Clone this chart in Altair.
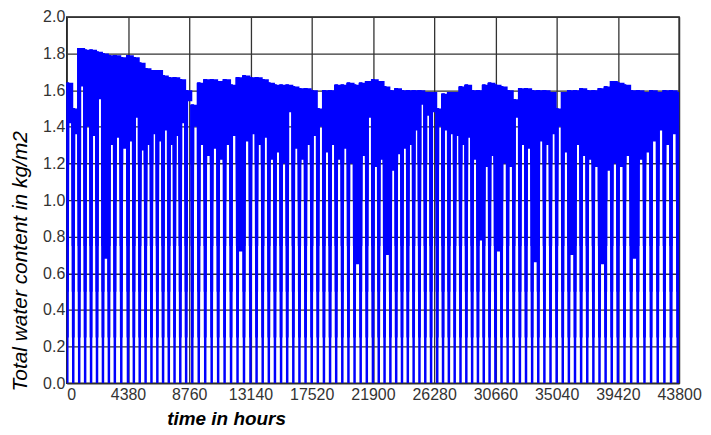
import altair as alt
import pandas as pd

# hours at which the water content drops to zero
drop_hours = [
    40, 465, 890, 1315, 1740, 2165, 2590, 3015, 3440, 3900, 4380, 4800, 5220,
    5640, 6060, 6480, 6890, 7300, 7710, 8120, 8540,
    8980, 9442, 9904, 10367, 10829, 11291, 11753, 12216, 12678, 13140,
    13578, 14016, 14454, 14892, 15330, 15768, 16206, 16644, 17082, 17520,
    17958, 18396, 18834, 19272, 19710, 20148, 20586, 21024, 21462, 21900,
    22316, 22732, 23148, 23564, 23980, 24396, 24812, 25228, 25644, 26060,
    26500, 26916, 27332, 27748, 28164, 28580, 28996, 29412, 29828, 30244,
    30660, 31098, 31536, 31974, 32412, 32850, 33288, 33726, 34164, 34602,
    35040, 35478, 35916, 36354, 36792, 37230, 37668, 38106, 38544, 38982,
    39420, 39895, 40371, 40846, 41322, 41797, 42272, 42748, 43223, 43699,
]

# upper envelope of the content between two drops (kg/m2)
segment_top = [
    1.64, 1.50, 1.83, 1.82, 1.82, 1.81, 1.80, 1.79, 1.79, 1.78, 1.79, 1.78,
    1.75, 1.72, 1.71, 1.71, 1.68, 1.67, 1.67, 1.66, 1.60,
    1.52, 1.64, 1.66, 1.66, 1.65, 1.66, 1.63, 1.67, 1.68, 1.67, 1.67, 1.66,
    1.64, 1.63, 1.63, 1.63, 1.62, 1.61, 1.61, 1.60, 1.50, 1.60, 1.60, 1.63,
    1.63, 1.64, 1.63, 1.64, 1.65, 1.66, 1.65, 1.62, 1.60, 1.61, 1.60, 1.60,
    1.60, 1.60, 1.59, 1.59,
    1.50, 1.58, 1.59, 1.59, 1.62, 1.63, 1.60, 1.60, 1.63, 1.64, 1.63, 1.62,
    1.60, 1.55, 1.61, 1.61, 1.60, 1.60, 1.60, 1.59, 1.50, 1.59, 1.60, 1.60,
    1.61, 1.60, 1.60, 1.61, 1.62, 1.65, 1.64, 1.63, 1.60, 1.60, 1.59, 1.60,
    1.59, 1.60, 1.60, 1.59,
]

# lowest content reached between two drops (top of each white gap, kg/m2)
gap_floor = [
    1.42, 1.36, 1.62, 1.40, 1.35, 1.55, 0.68, 1.30, 1.34, 1.28, 1.32, 1.45,
    1.27, 1.30, 1.36, 1.32, 1.38, 1.30, 1.35, 1.42, 1.54,
    1.40, 1.30, 1.24, 1.28, 1.22, 1.30, 1.35, 0.72, 1.32, 1.36, 1.30, 1.34,
    1.22, 1.26, 1.20, 1.48, 1.28, 1.22, 1.30, 1.35, 1.40, 1.26, 1.30, 1.22,
    1.28, 1.20, 0.65, 1.24, 1.45, 1.18, 1.22, 0.70, 1.16, 1.25, 1.28, 1.30,
    1.38, 1.52, 1.46, 1.48,
    1.40, 1.38, 1.36, 1.35, 1.30, 1.34, 1.22, 0.78, 1.18, 1.24, 0.72, 1.20,
    1.18, 1.45, 1.30, 1.28, 0.66, 1.32, 1.30, 1.36, 1.40, 1.26, 0.70, 1.30,
    1.24, 1.22, 1.18, 0.65, 1.16, 1.20, 1.18, 1.24, 0.68, 1.22, 1.26, 1.32,
    1.38, 1.30, 1.36, 1.40,
]

end_hour = 43800
x_ticks = [0, 4380, 8760, 13140, 17520, 21900, 26280, 30660, 35040, 39420, 43800]
y_ticks = [0.0, 0.2, 0.4, 0.6, 0.8, 1.0, 1.2, 1.4, 1.6, 1.8, 2.0]

df = pd.DataFrame({
    "start": drop_hours,
    "end": drop_hours[1:] + [end_hour],
    "lo": gap_floor,
    "top": segment_top,
})

FONT = "Liberation Sans"
BLUE = "#0000ff"
GRID = "#333333"

# drop stripes are narrow at the bottom and widen upward: (start level, px width)
STRIPE_TAPER = [(0.0, 2.5), (0.25, 2.8), (0.5, 3.1), (0.75, 3.4), (1.0, 3.7), (1.2, 4.0)]

x_scale = alt.Scale(domain=[0, end_hour], nice=False, zero=False)
y_scale = alt.Scale(domain=[0, 2], nice=False, zero=False)

x_axis = alt.Axis(
    values=x_ticks, format="d", title="time in hours",
    grid=True, gridColor=GRID, gridWidth=1.3, gridOpacity=1,
    ticks=False, domain=False, labelOverlap=False,
    labelFont=FONT, labelFontSize=16, labelColor="#333333", labelPadding=3,
    labelAlign={"condition": {"test": "datum.value == 0", "value": "left"}, "value": "center"},
    titleFont=FONT, titleFontSize=19, titleFontStyle="italic", titleFontWeight="bold",
    titleColor="#000000", titleX=160, titleY=41, titleAlign="center",
    titleBaseline="alphabetic",
)
y_axis = alt.Axis(
    values=y_ticks, format=".1f", title="Total water content in kg/m2",
    grid=True, gridColor=GRID, gridWidth=1.3, gridOpacity=1,
    ticks=False, domain=False, labelOverlap=False,
    labelFont=FONT, labelFontSize=16, labelColor="#333333", labelPadding=2,
    titleFont=FONT, titleFontSize=21, titleFontStyle="italic", titleFontWeight="normal",
    titleColor="#000000", titleX=-40, titleY=245, titleAngle=270,
    titleAlign="center", titleBaseline="alphabetic",
)

bands = alt.Chart(df).mark_rect(color=BLUE, clip=True).encode(
    x=alt.X("start:Q", scale=x_scale, axis=x_axis),
    x2="end:Q",
    y=alt.Y("lo:Q", scale=y_scale, axis=y_axis),
    y2="top:Q",
)

layers = [bands]
for level, width in STRIPE_TAPER:
    layers.append(
        alt.Chart(df)
        .transform_calculate(base=str(level))
        .mark_rule(color=BLUE, strokeWidth=width, clip=True)
        .encode(
            x=alt.X("start:Q", scale=x_scale, axis=x_axis),
            y=alt.Y("base:Q", scale=y_scale, axis=y_axis),
            y2="top:Q",
        )
    )

chart = alt.layer(*layers).properties(
    width=615, height=368,
    autosize="none",
    padding={"left": 59, "top": 8, "right": 24, "bottom": 46},
    background="white",
).configure_view(stroke="#222222", strokeWidth=1.5)

chart.save("out.html", embed_options={"renderer": "svg", "actions": False})
